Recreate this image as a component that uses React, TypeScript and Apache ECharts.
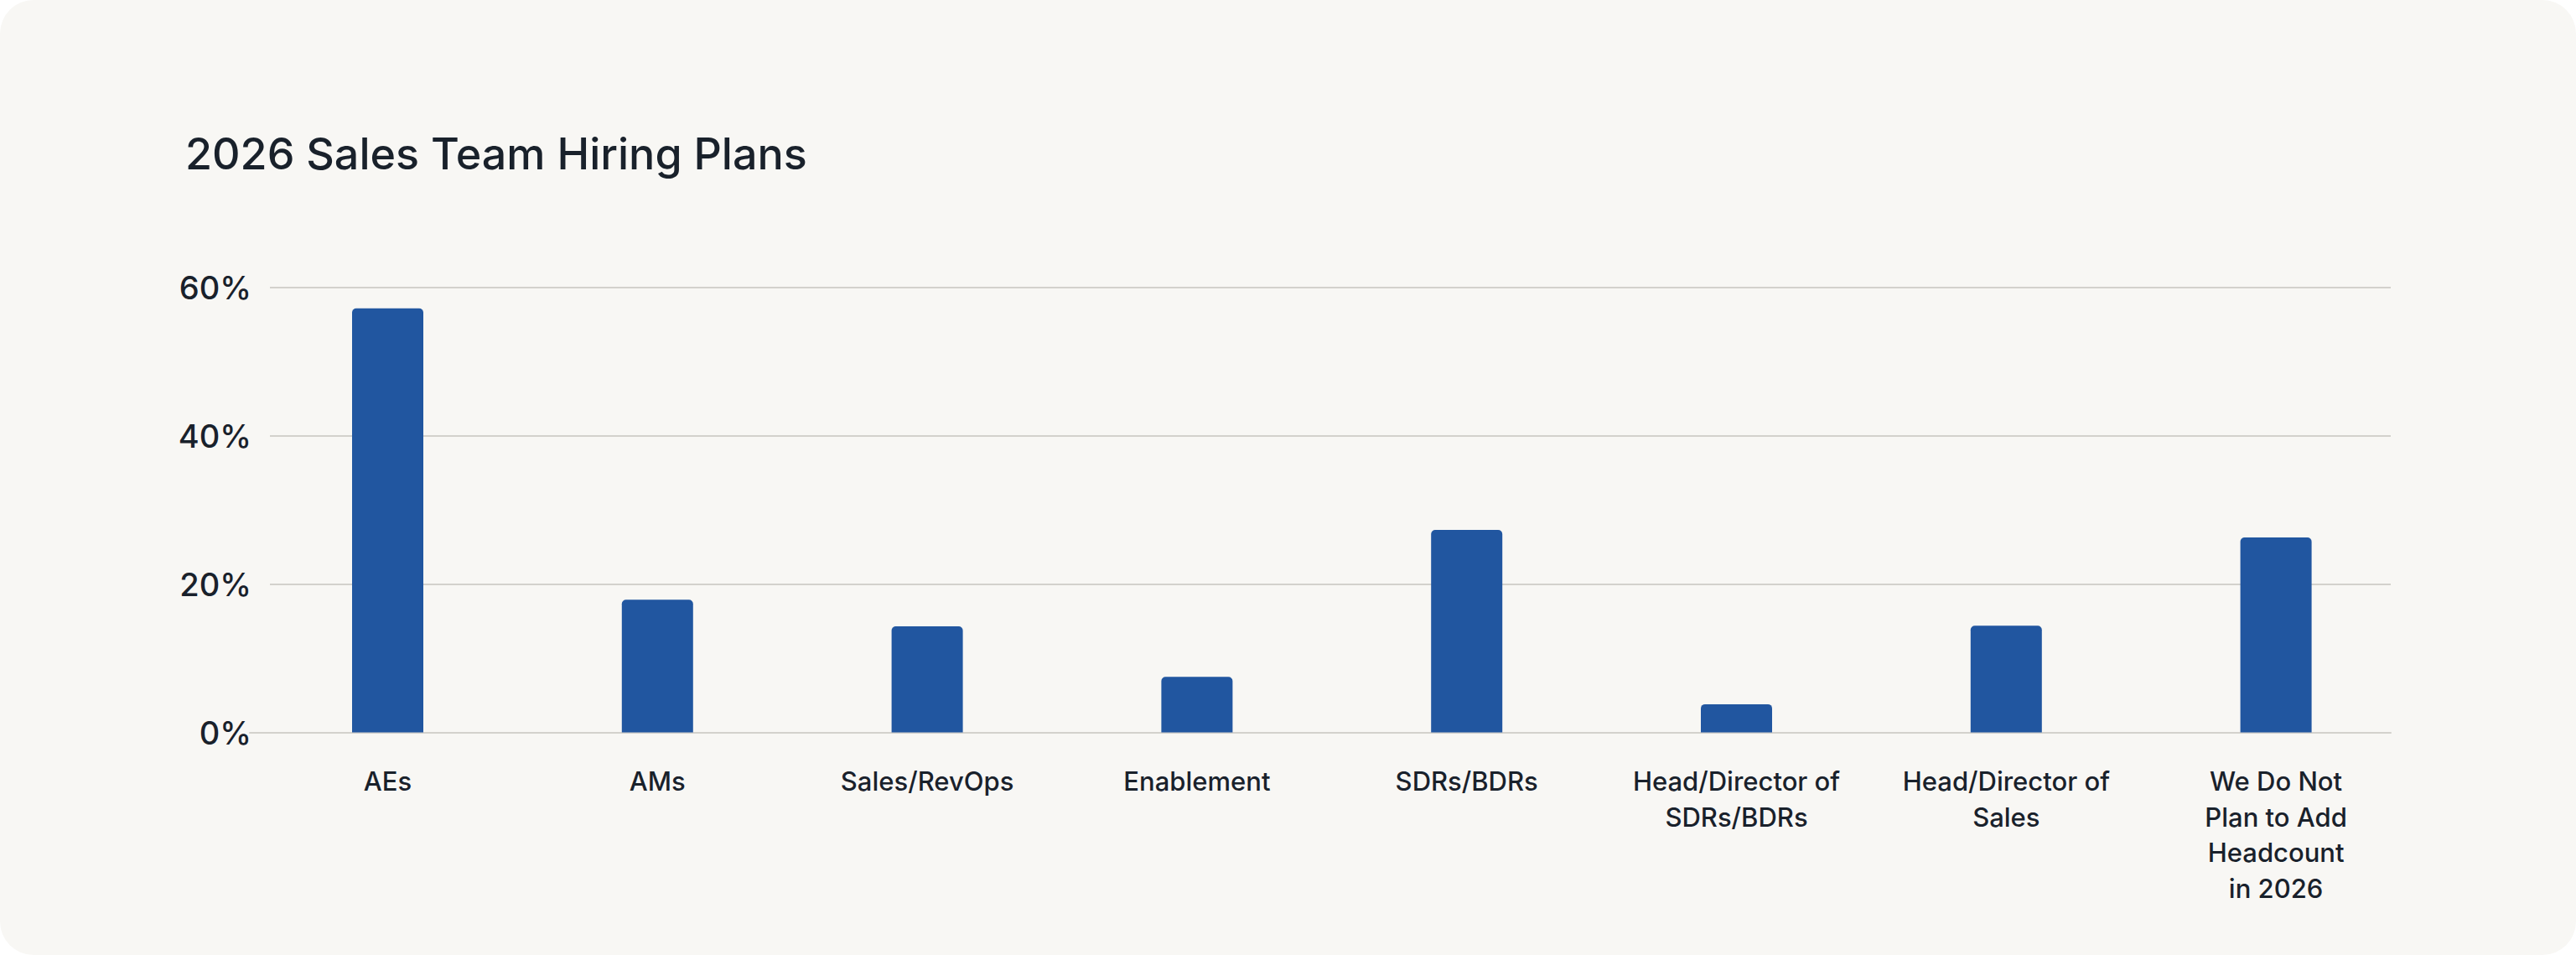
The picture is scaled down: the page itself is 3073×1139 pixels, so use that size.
import React, { useEffect, useRef } from "react";
import * as echarts from "echarts";

const titleText = "2026 Sales Team Hiring Plans";
const categories = [
  "AEs",
  "AMs",
  "Sales/RevOps",
  "Enablement",
  "SDRs/BDRs",
  "Head/Director of\nSDRs/BDRs",
  "Head/Director of\nSales",
  "We Do Not\nPlan to Add\nHeadcount\nin 2026",
];
const values = [57.2, 17.9, 14.3, 7.5, 27.3, 3.8, 14.4, 26.3];
const yTicks = [0, 20, 40, 60];

const W = 3073;
const H = 1139;
const TEXT = "#19212b";
const GRID = "#d3d1cc";
const BAR = "#2156a0";
const FONT = "Inter, 'Noto Sans', sans-serif";

export default function App() {
  const ref = useRef<HTMLDivElement>(null);
  useEffect(() => {
    if (!ref.current) return;
    const chart = echarts.init(ref.current, undefined, { renderer: "svg", width: W, height: H });
    const top = 343;
    const bottom = H - 873.5;
    const yMin = yTicks[0];
    const yMax = yTicks[yTicks.length - 1];
    const step = yTicks[1] - yTicks[0];
    chart.setOption({
      animation: false,
      backgroundColor: "transparent",
      textStyle: { fontFamily: FONT },
      title: {
        text: titleText,
        left: 216,
        top: 152,
        textStyle: { fontFamily: FONT, fontSize: 52, fontWeight: 500, color: TEXT },
      },
      grid: [
        { left: 322, right: W - 2852, top, bottom },
        { left: 301.6, right: W - 2876, top, bottom },
        { left: 298, right: W - 2852, top, bottom },
      ],
      xAxis: [
        { gridIndex: 0, type: "value", show: false },
        {
          gridIndex: 1,
          type: "category",
          data: categories,
          axisLine: { show: false },
          axisTick: { show: false },
          axisLabel: {
            interval: 0,
            margin: 37,
            fontFamily: FONT,
            fontSize: 31,
            fontWeight: 500,
            lineHeight: 42.5,
            color: TEXT,
            align: "center",
          },
        },
        {
          gridIndex: 2,
          type: "category",
          data: categories,
          axisLine: { show: true, lineStyle: { color: GRID, width: 2 } },
          axisTick: { show: false },
          axisLabel: { show: false },
        },
      ],
      yAxis: [
        {
          gridIndex: 0,
          type: "value",
          min: yMin,
          max: yMax,
          interval: step,
          axisLine: { show: false },
          axisTick: { show: false },
          splitLine: { show: true, lineStyle: { color: GRID, width: 2 } },
          axisLabel: {
            margin: 22,
            fontFamily: FONT,
            fontSize: 38,
            fontWeight: 500,
            color: TEXT,
            formatter: "{value}%",
          },
        },
        { gridIndex: 1, type: "value", min: yMin, max: yMax, interval: step, show: false },
        { gridIndex: 2, type: "value", min: yMin, max: yMax, interval: step, show: false },
      ],
      series: [
        {
          type: "bar",
          xAxisIndex: 1,
          yAxisIndex: 1,
          data: values,
          barWidth: 85,
          itemStyle: { color: BAR, borderRadius: [5, 5, 0, 0] },
          z: 5,
        },
      ],
    });
    return () => chart.dispose();
  }, []);
  return (
    <div
      style={{
        position: "fixed",
        left: 0,
        top: 0,
        width: W,
        height: H,
        background: "#ffffff",
      }}
    >
      <div
        style={{
          position: "absolute",
          left: 0,
          top: 0,
          width: W,
          height: H,
          background: "#f8f7f4",
          borderRadius: 40,
        }}
      />
      <div ref={ref} style={{ position: "absolute", left: 0, top: 0, width: W, height: H }} />
    </div>
  );
}
